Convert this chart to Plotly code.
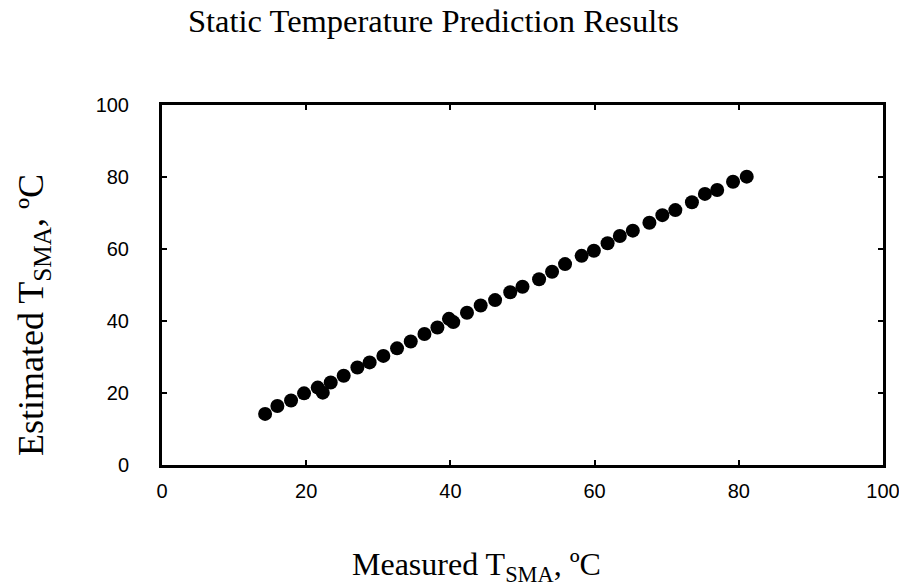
import plotly.graph_objects as go

measured = [14.3, 16.0, 17.9, 19.7, 21.6, 22.3, 23.4, 25.2, 27.1, 28.8, 30.7, 32.6, 34.5,
            36.4, 38.2, 39.8, 40.4, 42.3, 44.2, 46.2, 48.3, 50.0, 52.3, 54.1, 55.9, 58.2,
            59.9, 61.8, 63.5, 65.3, 67.6, 69.4, 71.2, 73.5, 75.3, 77.0, 79.2, 81.1]
estimated = [14.2, 16.4, 17.9, 19.9, 21.5, 20.1, 22.9, 24.8, 27.1, 28.5, 30.3, 32.4, 34.3,
             36.4, 38.2, 40.6, 39.7, 42.3, 44.3, 45.8, 48.0, 49.5, 51.6, 53.7, 55.8, 58.1,
             59.5, 61.6, 63.6, 65.1, 67.3, 69.4, 70.8, 73.0, 75.3, 76.4, 78.7, 80.1]
tick_vals = [0, 20, 40, 60, 80, 100]

fig = go.Figure()
fig.add_trace(go.Scatter(x=measured, y=estimated, mode="markers",
                         marker=dict(color="black", size=14, line=dict(width=0)),
                         showlegend=False))

axis_common = dict(range=[0, 100], tickvals=tick_vals, showgrid=False, zeroline=False,
                   showline=True, linecolor="black", linewidth=3, mirror="ticks",
                   ticks="inside", ticklen=5, tickwidth=2, tickcolor="black",
                   ticklabeloverflow="allow", automargin=False,
                   tickfont=dict(family="Liberation Sans, Arial", size=20, color="black"))

fig.update_xaxes(**axis_common, ticklabelstandoff=6)
fig.update_yaxes(**axis_common, ticklabelstandoff=26)

L, R, T, B = 162, 883, 105, 465
W, H = R - L, B - T
serif = dict(family="Liberation Serif, Times New Roman", color="black")
fig.update_layout(
    width=899, height=587,
    margin=dict(l=L, r=899 - R, t=T, b=587 - B, autoexpand=False),
    paper_bgcolor="white", plot_bgcolor="white",
    annotations=[
        dict(text="Static Temperature Prediction Results", xref="paper", yref="paper",
             x=(433 - L) / W, y=(B - 21) / H, showarrow=False,
             font=dict(size=32.5, **serif), xanchor="center", yanchor="middle"),
        dict(text="Measured T<sub>SMA</sub>, ºC", xref="paper", yref="paper",
             x=(476 - L) / W, y=(B - 566) / H, showarrow=False,
             font=dict(size=32, **serif), xanchor="center", yanchor="middle"),
        dict(text="Estimated T<sub>SMA</sub>, ºC", xref="paper", yref="paper",
             x=(33 - L) / W, y=(B - 315) / H, showarrow=False, textangle=-90,
             font=dict(size=36, **serif), xanchor="center", yanchor="middle"),
    ],
)

fig.write_html("out.html", config={"displayModeBar": False, "responsive": False},
               post_script="document.body.style.margin='0px';")
